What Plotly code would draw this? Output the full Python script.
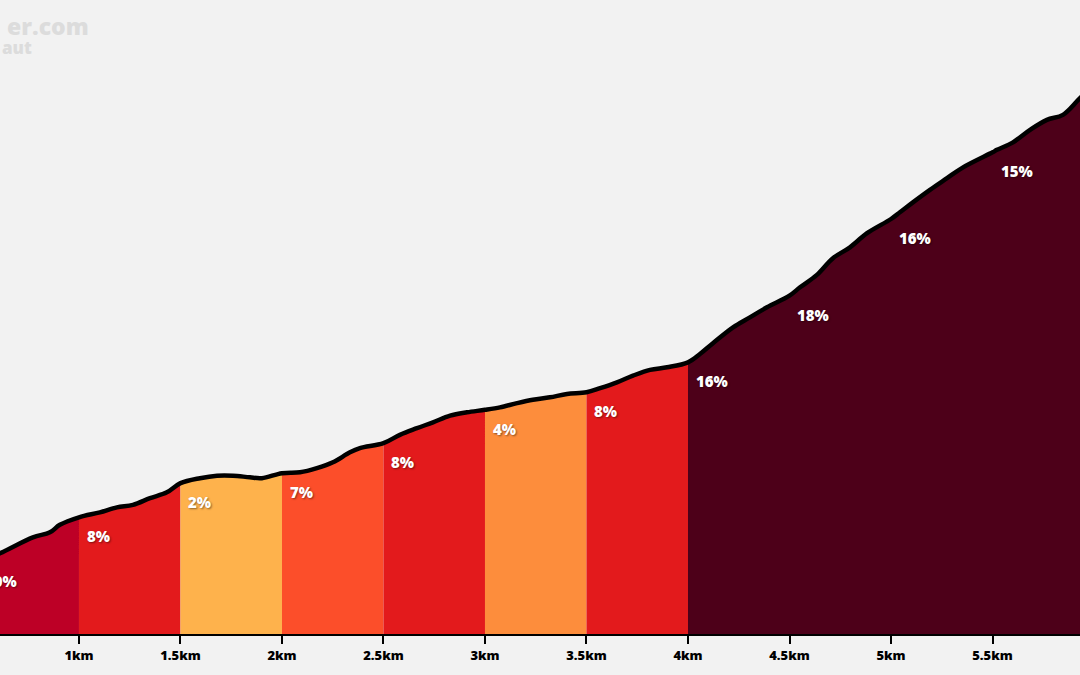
import numpy as np
import plotly.graph_objects as go

# elevation profile (distance in km, elevation in m)
distance_km = [0.5, 0.611, 0.773, 0.857, 0.906, 1.0, 1.103, 1.187, 1.266, 1.35, 1.433, 1.5,
               1.596, 1.68, 1.759, 1.842, 1.901, 2.0, 2.089, 2.172, 2.251, 2.335, 2.384, 2.5,
               2.581, 2.665, 2.744, 2.828, 2.911, 3.0, 3.074, 3.158, 3.236, 3.32, 3.404, 3.5,
               3.567, 3.65, 3.729, 3.813, 3.897, 4.0, 4.059, 4.123, 4.222, 4.305, 4.389, 4.5,
               4.552, 4.635, 4.714, 4.798, 4.882, 5.0, 5.044, 5.108, 5.192, 5.276, 5.355, 5.5,
               5.522, 5.601, 5.685, 5.768, 5.847, 5.931, 6.0]
elevation_m = [386, 397, 416, 422, 431, 440, 446, 452, 455, 463, 470, 481,
               487, 490, 490, 488, 487, 493, 494, 499, 506, 518, 523, 529,
               539, 547, 554, 562, 566, 569, 572, 577, 581, 584, 588, 590,
               595, 602, 610, 617, 620, 626, 636, 649, 668, 680, 692, 706,
               716, 731, 751, 764, 781, 798, 806, 818, 833, 847, 860, 878,
               881, 890, 905, 917, 923, 943, 958]

# gradient per half-km section
section_start = [0.5, 1.0, 1.5, 2.0, 2.5, 3.0, 3.5, 4.0, 4.5, 5.0, 5.5]
section_end = [1.0, 1.5, 2.0, 2.5, 3.0, 3.5, 4.0, 4.5, 5.0, 5.5, 6.0]
section_grade = [10, 8, 2, 7, 8, 4, 8, 16, 18, 16, 15]

tick_vals = [1, 1.5, 2, 2.5, 3, 3.5, 4, 4.5, 5, 5.5, 6]
tick_text = ["1km", "1.5km", "2km", "2.5km", "3km", "3.5km", "4km", "4.5km", "5km", "5.5km", "6km"]


def grade_color(g):
    if g <= 2:
        return "#feb24c"
    if g <= 5:
        return "#fd8d3c"
    if g <= 7:
        return "#fc4e2a"
    if g <= 9:
        return "#e31a1c"
    if g <= 12:
        return "#bd0026"
    return "#4d0019"


x_range = [0.611, 5.931]
y_range = [300, 1060.8]
bg = "#f2f2f2"
font_family = "Open Sans"

dist = np.array(distance_km)
elev = np.array(elevation_m)


def to_paper_x(km):
    return (km - x_range[0]) / (x_range[1] - x_range[0])


# merge neighbouring sections of the same colour so no seams show
blocks = []
for s, e, g in zip(section_start, section_end, section_grade):
    c = grade_color(g)
    if blocks and blocks[-1][2] == c:
        blocks[-1][1] = e
    else:
        blocks.append([s, e, c])

fig = go.Figure()

for s, e, c in blocks:
    mask = (dist >= s - 1e-9) & (dist <= e + 1e-9)
    fig.add_trace(go.Scatter(
        x=dist[mask], y=elev[mask], mode="lines",
        line=dict(width=0, shape="spline", color=c),
        fill="tozeroy", fillcolor=c,
        hoverinfo="skip", showlegend=False))

fig.add_trace(go.Scatter(
    x=distance_km, y=elevation_m, mode="lines",
    line=dict(color="#000000", width=4.5, shape="spline"),
    hoverinfo="skip", showlegend=False))

# gradient labels (paper x so the first one, left of the range, still shows)
label_font = dict(family=font_family, size=15, color="#ffffff", weight=800,
                  shadow="1px 1px 2px rgba(0,0,0,0.45)")
for s, g in zip(section_start, section_grade):
    fig.add_annotation(
        x=to_paper_x(s), y=float(np.interp(s, dist, elev)), xref="paper", yref="y",
        text=f"{g}%", showarrow=False, xanchor="left", yanchor="middle",
        xshift=6, yshift=-19, font=label_font)

# last tick label, partly off the right edge
fig.add_annotation(
    x=to_paper_x(6), y=-24 / 634, xref="paper", yref="paper",
    text="6km", showarrow=False, xanchor="center", yanchor="middle",
    font=dict(family=font_family, size=13, color="#000000", weight=800))

# faint watermark in the corner
fig.add_annotation(
    x=91 / 1080, y=1 - 26 / 634, xref="paper", yref="paper", text="er.com", showarrow=False,
    xanchor="right", yanchor="middle",
    font=dict(family=font_family, size=23, color="#dcdcdc", weight=800))
fig.add_annotation(
    x=34 / 1080, y=1 - 48 / 634, xref="paper", yref="paper", text="aut", showarrow=False,
    xanchor="right", yanchor="middle",
    font=dict(family=font_family, size=17, color="#dcdcdc", weight=800))

fig.update_xaxes(
    range=x_range, tickvals=tick_vals, ticktext=tick_text,
    showgrid=False, zeroline=False, showline=True, linecolor="#000000", linewidth=2,
    ticks="outside", ticklen=8, tickwidth=2, tickcolor="#000000",
    tickfont=dict(family=font_family, size=13, color="#000000", weight=800))
fig.update_yaxes(range=y_range, visible=False, showgrid=False, zeroline=False)

fig.update_layout(
    width=1080, height=675,
    margin=dict(l=0, r=0, t=0, b=41),
    paper_bgcolor=bg, plot_bgcolor=bg,
)

fig.write_html("out.html", config={"displayModeBar": False},
               post_script="document.body.style.margin='0';")
